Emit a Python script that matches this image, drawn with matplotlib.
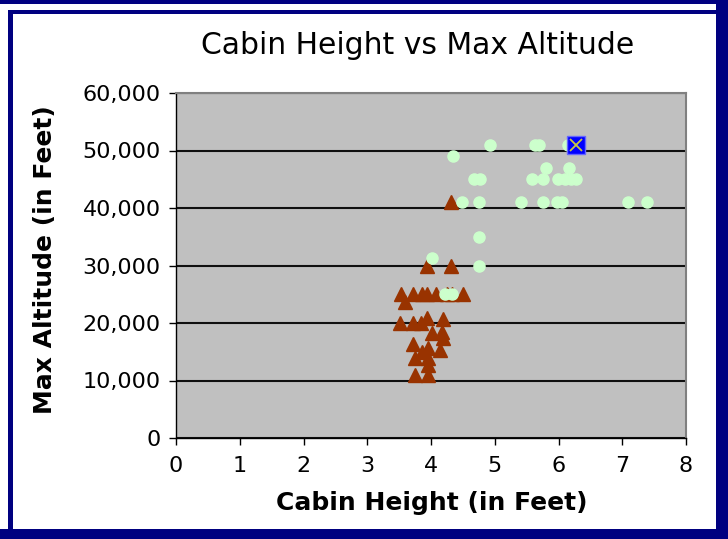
import numpy as np
import matplotlib
matplotlib.use("Agg")
import matplotlib.pyplot as plt
from matplotlib.patches import Rectangle
from matplotlib.ticker import FuncFormatter

# triangles (brown)
tri_x = [4.31, 3.94, 4.31,
         3.53, 3.72, 3.86, 3.94, 4.08, 4.25, 4.33, 4.50, 3.59,
         3.51, 3.72, 3.84, 3.94, 4.19,
         4.02, 4.17, 4.19, 3.72, 3.95, 4.14, 3.86, 3.75, 3.95, 3.95, 3.75, 3.95]
tri_y = [41000, 30000, 30000,
         25000, 25000, 25000, 25000, 25000, 25000, 25000, 25000, 23600,
         20000, 20000, 20000, 20900, 20700,
         18300, 18400, 17400, 16300, 15700, 15300, 15000, 13900, 13900, 12700, 11000, 11000]

# circles (light green)
circ_x = [4.35, 4.93, 5.63, 5.70, 6.15,
          5.80, 6.17,
          4.68, 4.77, 5.58, 5.76, 5.99, 6.10, 6.20, 6.27,
          4.49, 4.75, 5.41, 5.76, 5.98, 6.05, 7.09, 7.39,
          4.75, 4.75, 4.01, 4.22, 4.33]
circ_y = [49000, 51000, 51000, 51000, 51000,
          47000, 47000,
          45000, 45000, 45000, 45000, 45000, 45000, 45000, 45000,
          41000, 41000, 41000, 41000, 41000, 41000, 41000, 41000,
          35000, 30000, 31300, 25000, 25000]

# highlighted point
hl_x = [6.27]
hl_y = [51000]

navy = "#000080"

fig = plt.figure(figsize=(7.28, 5.39), dpi=100)
fig.patch.set_facecolor("white")

W, H = 728, 539
def px(x, y, w, h):
    return Rectangle((x / W, 1 - (y + h) / H), w / W, h / H,
                     transform=fig.transFigure, facecolor=navy,
                     edgecolor="none", zorder=0)

fig.patches.extend([
    px(0, 0, W, 4),
    px(8, 10, 712, 4),
    px(8, 10, 5, 525),
    px(716, 0, 12, H),
    px(0, 529, W, 10),
])

ax = fig.add_axes([176 / W, 1 - 438 / H, 510 / W, 345 / H])
ax.set_facecolor("#C0C0C0")

ax.plot(tri_x, tri_y, linestyle="none", marker="^", markersize=10.5,
        color="#993300", zorder=3)
ax.plot(circ_x, circ_y, linestyle="none", marker="o", markersize=8,
        color="#CCFFCC", zorder=4)
ax.plot(hl_x, hl_y, linestyle="none", marker="s", markersize=13,
        markerfacecolor="#0000FF", markeredgecolor="#6666FF",
        markeredgewidth=1, zorder=5)
ax.plot(hl_x, hl_y, linestyle="none", marker="x", markersize=9,
        color="#C8C840", markeredgewidth=1.3, zorder=6)

ax.set_xlim(0, 8)
ax.set_ylim(0, 60000)
ax.set_xticks(np.arange(0, 9, 1))
ax.set_yticks(np.arange(0, 60001, 10000))
ax.yaxis.set_major_formatter(FuncFormatter(lambda v, p: f"{int(v):,}"))

ax.grid(axis="y", color="#101010", linewidth=1.5)
ax.set_axisbelow(True)
for s in ["top", "right"]:
    ax.spines[s].set_color("#808080")
    ax.spines[s].set_linewidth(1.5)
for s in ["left", "bottom"]:
    ax.spines[s].set_color("black")
    ax.spines[s].set_linewidth(1)

ax.tick_params(axis="both", direction="out", length=5, width=1,
               labelsize=16, colors="black", pad=6)
ax.tick_params(axis="x", pad=8)

fig.text(418 / W, 1 - 46 / H, "Cabin Height vs Max Altitude", fontsize=21.5,
         ha="center", va="center")
fig.text(432 / W, 1 - 503 / H, "Cabin Height (in Feet)", fontsize=18,
         fontweight="bold", ha="center", va="center")
fig.text(45 / W, 1 - 260 / H, "Max Altitude (in Feet)", fontsize=18,
         fontweight="bold", ha="center", va="center", rotation=90)

fig.savefig("out.png", dpi=100)
